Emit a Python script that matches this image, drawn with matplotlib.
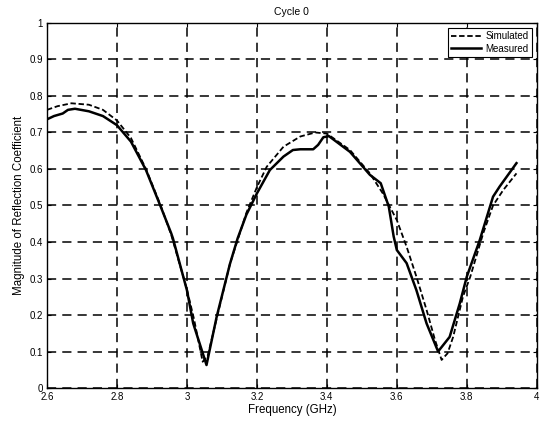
import matplotlib
matplotlib.use("Agg")
import matplotlib.pyplot as plt

plt.rcParams['font.family'] = ['Liberation Sans', 'DejaVu Sans']

sim_f = [2.6, 2.63, 2.67, 2.72, 2.76, 2.8, 2.84, 2.883, 2.925, 2.955, 3.0, 3.02,
         3.045, 3.06, 3.085, 3.123, 3.17, 3.2, 3.228, 3.276, 3.324, 3.367, 3.4,
         3.466, 3.523, 3.56, 3.6, 3.628, 3.656, 3.685, 3.709, 3.728, 3.745, 3.761,
         3.789, 3.81, 3.847, 3.875, 3.904, 3.942]
sim_v = [0.762, 0.772, 0.78, 0.776, 0.762, 0.733, 0.685, 0.60, 0.50, 0.42, 0.27, 0.19,
         0.072, 0.09, 0.19, 0.34, 0.48, 0.55, 0.606, 0.661, 0.689, 0.70, 0.697,
         0.652, 0.588, 0.533, 0.46, 0.387, 0.305, 0.214, 0.132, 0.077, 0.095, 0.14,
         0.25, 0.305, 0.424, 0.50, 0.542, 0.588]

meas_f = [2.6, 2.62, 2.645, 2.66, 2.68, 2.72, 2.76, 2.8, 2.84, 2.883, 2.925, 2.955,
          2.96, 3.0, 3.018, 3.056, 3.085, 3.123, 3.145, 3.17, 3.2, 3.237, 3.276, 3.303,
          3.324, 3.361, 3.375, 3.39, 3.406, 3.466, 3.495, 3.523, 3.554, 3.577, 3.591,
          3.6, 3.628, 3.656, 3.685, 3.718, 3.751, 3.78, 3.8, 3.837, 3.875, 3.894, 3.942]
meas_v = [0.736, 0.745, 0.752, 0.762, 0.765, 0.758, 0.745, 0.72, 0.675, 0.597, 0.497, 0.424,
          0.41, 0.268, 0.177, 0.063, 0.195, 0.34, 0.41, 0.475, 0.533, 0.597, 0.634, 0.652,
          0.654, 0.654, 0.666, 0.687, 0.69, 0.647, 0.615, 0.584, 0.561, 0.497, 0.415,
          0.378, 0.342, 0.268, 0.177, 0.1, 0.14, 0.232, 0.305, 0.405, 0.524, 0.552, 0.616]

xticks = [2.6, 2.8, 3.0, 3.2, 3.4, 3.6, 3.8, 4.0]
xtick_labels = ['2.6', '2.8', '3', '3.2', '3.4', '3.6', '3.8', '4']
yticks = [0, 0.1, 0.2, 0.3, 0.4, 0.5, 0.6, 0.7, 0.8, 0.9, 1.0]
ytick_labels = ['0', '0.1', '0.2', '0.3', '0.4', '0.5', '0.6', '0.7', '0.8', '0.9', '1']

fig = plt.figure(figsize=(5.4, 4.23), dpi=100)
ax = fig.add_axes([0.087, 0.0827, 0.907, 0.863])

ax.plot(sim_f, sim_v, color='black', linestyle=(0, (3, 1.5)), linewidth=1.3,
        dash_joinstyle='round', label='Simulated')
ax.plot(meas_f, meas_v, color='black', linestyle='-', linewidth=1.8,
        solid_joinstyle='round', label='Measured')

ax.set_xlim(2.6, 4.0)
ax.set_ylim(0, 1)
ax.set_xticks(xticks)
ax.set_xticklabels(xtick_labels)
ax.set_yticks(yticks)
ax.set_yticklabels(ytick_labels)
ax.tick_params(direction='in', top=True, right=True, labelsize=7, length=3)
ax.tick_params(axis='x', pad=3)
ax.tick_params(axis='y', pad=3)
ax.grid(True, color='black', linestyle=(0, (6, 4)), linewidth=1.1)
for s in ax.spines.values():
    s.set_linewidth(1.0)

ax.set_title('Cycle 0', fontsize=7.5, pad=6)
ax.set_xlabel('Frequency (GHz)', fontsize=8.3, labelpad=1)
ax.set_ylabel('Magnitude of Reflection Coefficient', fontsize=8.3, labelpad=3)

leg = ax.legend(loc='upper right', fontsize=7, frameon=True, fancybox=False,
                edgecolor='black', framealpha=1, borderpad=0.35, handlelength=3.0,
                handletextpad=0.5, labelspacing=0.25, borderaxespad=0.5)
leg.get_frame().set_linewidth(0.8)

fig.savefig('out.png', dpi=100)
